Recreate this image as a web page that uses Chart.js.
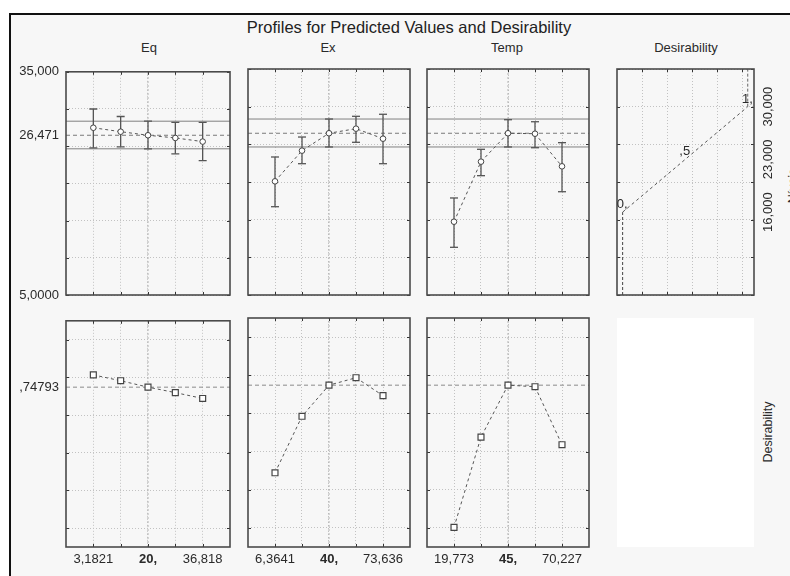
<!DOCTYPE html>
<html>
<head>
<meta charset="utf-8">
<script src="https://cdn.jsdelivr.net/npm/chart.js@4.4.1/dist/chart.umd.min.js"></script>
<style>
  body { margin: 0; background: #fff; font-family: "Liberation Sans", Arial, sans-serif; }
  #wrap { position: relative; width: 790px; height: 576px; overflow: hidden; background: #fff; }
  #frame { position: absolute; left: 9px; top: 13px; width: 820px; height: 600px; border-left: 2px solid #111; border-top: 2px solid #111; background: #f7f7f7; }
  .t { position: absolute; color: #2a2a2a; white-space: nowrap; line-height: 16px; }
  .rot { transform: translate(-50%, -50%) rotate(-90deg); }
  canvas { position: absolute; }
</style>
</head>
<body>
<div id="wrap">
  <div id="frame"></div>
  <div class="t" style="left:409px;top:17px;font-size:16.5px;line-height:20px;color:#222;transform:translateX(-50%)">Profiles for Predicted Values and Desirability</div>
  <div class="t" style="left:149px;top:40px;font-size:13px;transform:translateX(-50%)">Eq</div>
  <div class="t" style="left:328px;top:40px;font-size:13px;transform:translateX(-50%)">Ex</div>
  <div class="t" style="left:507px;top:40px;font-size:13px;transform:translateX(-50%)">Temp</div>
  <div class="t" style="left:686px;top:40px;font-size:13px;transform:translateX(-50%)">Desirability</div>
  <div style="position:absolute;left:617px;top:318px;width:137px;height:229px;background:#fff"></div>
  <div class="t rot" style="left:768px;top:432px;font-size:12.5px">Desirability</div>
  <div class="t rot" style="left:793px;top:186px;font-size:12.5px">Níveis</div>
  <canvas id="eqTop"></canvas>
  <canvas id="exTop"></canvas>
  <canvas id="tempTop"></canvas>
  <canvas id="desTop"></canvas>
  <canvas id="eqBot"></canvas>
  <canvas id="exBot"></canvas>
  <canvas id="tempBot"></canvas>
</div>
<script>
// factor levels (x) and their tick labels
const eqLevels = [3.1821, 11.591, 20, 28.409, 36.818];
const exLevels = [6.3641, 23.182, 40, 56.818, 73.636];
const tempLevels = [19.773, 32.386, 45, 57.614, 70.227];
const eqTickLabels = ['3,1821', '', '20,', '', '36,818'];
const exTickLabels = ['6,3641', '', '40,', '', '73,636'];
const tempTickLabels = ['19,773', '', '45,', '', '70,227'];

// predicted response with confidence limits
const eqPred = [27.48, 26.95, 26.471, 26.11, 25.62];
const eqLow = [24.78, 24.91, 24.65, 23.98, 23.05];
const eqHigh = [30.0, 28.99, 28.36, 28.19, 28.19];
const exPred = [20.09, 24.16, 26.471, 27.08, 25.75];
const exLow = [16.72, 22.43, 24.65, 25.27, 22.43];
const exHigh = [23.32, 25.97, 28.36, 28.72, 28.99];
const tempPred = [14.73, 22.70, 26.471, 26.41, 22.08];
const tempLow = [11.33, 20.84, 24.65, 24.55, 18.71];
const tempHigh = [17.88, 24.34, 28.27, 28.00, 25.22];
const predCurrent = 26.471;
const ciLow = 24.65;
const ciHigh = 28.36;

// desirability at each level
const eqDes = [0.813, 0.782, 0.748, 0.719, 0.688];
const exDes = [0.289, 0.585, 0.748, 0.787, 0.693];
const tempDes = [0.003, 0.476, 0.748, 0.740, 0.436];
const desCurrent = 0.74793;

// desirability function (desirability vs response)
const desValues = [0, 0.5, 1];
const desResp = [16, 23, 30];
const desLabels = ['0,', ',5', '1,'];
const respTicks = [16, 23, 30];
const respTickLabels = ['16,000', '23,000', '30,000'];

// axis ranges, grids and labels
const topRange = [5, 35];
const topGrid = [5, 10, 15, 20, 25, 30, 35];
const topYTicks = [35, 26.471, 5];
const topYLabels = ['35,000', '26,471', '5,0000'];
const botRange = [-0.1, 1.1];
const botGrid = [0, 0.2, 0.4, 0.6, 0.8, 1];
const botYTicks = [0.74793];
const botYLabels = [',74793'];
const desRange = [-0.045, 1.05];
const desGrid = [0.155, 0.355, 0.555, 0.755, 0.955];

const FONT = '"Liberation Sans", Arial, sans-serif';
const TXT = '#2a2a2a';
const GRID = '#c2c2c2';
const M = { l: 62, r: 46, t: 12, b: 30 };

function place(id, x, y, w, h) {
  const c = document.getElementById(id);
  c.width = w + M.l + M.r;
  c.height = h + M.t + M.b;
  c.style.left = (x - M.l) + 'px';
  c.style.top = (y - M.t) + 'px';
  return c;
}

// panel border + little inward ticks at the grid lines
const panelFrame = {
  id: 'panelFrame',
  afterDatasetsDraw(chart, args, o) {
    const { ctx, chartArea: a, scales } = chart;
    ctx.save();
    ctx.setLineDash([]);
    ctx.strokeStyle = '#333';
    ctx.lineWidth = 1;
    ctx.beginPath();
    (o.xs || []).forEach(v => {
      const p = Math.round(scales.x.getPixelForValue(v)) + 0.5;
      ctx.moveTo(p, a.top); ctx.lineTo(p, a.top + 3);
      ctx.moveTo(p, a.bottom); ctx.lineTo(p, a.bottom - 3);
    });
    (o.ys || []).forEach(v => {
      const p = Math.round(scales.y.getPixelForValue(v)) + 0.5;
      ctx.moveTo(a.left, p); ctx.lineTo(a.left + 3, p);
      ctx.moveTo(a.right, p); ctx.lineTo(a.right - 3, p);
    });
    ctx.stroke();
    ctx.strokeStyle = '#4a4a4a';
    ctx.lineWidth = 1.6;
    ctx.strokeRect(a.left, a.top, a.width, a.height);
    ctx.restore();
  }
};

// labels on the desirability function + the right response axis
const desText = {
  id: 'desText',
  afterDatasetsDraw(chart) {
    const { ctx, chartArea: a, scales: { x, y } } = chart;
    ctx.save();
    ctx.fillStyle = TXT;
    ctx.font = '13px ' + FONT;
    ctx.textAlign = 'right';
    ctx.textBaseline = 'bottom';
    desValues.forEach((v, i) => {
      ctx.fillText(desLabels[i], x.getPixelForValue(v) + 5, y.getPixelForValue(desResp[i]) - 1);
    });
    ctx.textAlign = 'center';
    ctx.textBaseline = 'middle';
    respTicks.forEach((v, i) => {
      ctx.save();
      ctx.translate(a.right + 14, y.getPixelForValue(v));
      ctx.rotate(-Math.PI / 2);
      ctx.fillText(respTickLabels[i], 0, 0);
      ctx.restore();
    });
    ctx.restore();
  }
};

function xScale(min, max, grid, tickLabels) {
  return {
    type: 'linear', min: min, max: max,
    afterBuildTicks: s => { s.ticks = grid.map(v => ({ value: v })); },
    afterFit: s => { s.height = M.b; },
    grid: { color: GRID, drawTicks: false },
    border: { display: false, dash: [1, 2] },
    ticks: {
      display: !!tickLabels, autoSkip: false, maxRotation: 0, padding: 5, color: TXT,
      font: c => ({ family: FONT, size: 13, weight: c.index === 2 ? 'bold' : 'normal' }),
      callback: (v, i) => tickLabels ? tickLabels[i] : ''
    }
  };
}

function yScale(range, grid, labelVals, labels) {
  const vals = [...new Set(grid.concat(labelVals || []))].sort((a, b) => a - b);
  return {
    min: range[0], max: range[1],
    afterBuildTicks: s => { s.ticks = vals.map(v => ({ value: v })); },
    afterFit: s => { s.width = M.l; },
    grid: { drawTicks: false, color: c => grid.includes(c.tick.value) ? GRID : 'rgba(0,0,0,0)' },
    border: { display: false, dash: [1, 2] },
    ticks: {
      display: !!labelVals, padding: 7, color: TXT, font: { family: FONT, size: 13 },
      callback: v => { const k = (labelVals || []).indexOf(v); return k < 0 ? '' : labels[k]; }
    }
  };
}

function line(data, color, dash, width) {
  return { data: data, borderColor: color, borderDash: dash, borderWidth: width || 1, pointRadius: 0 };
}

function baseOptions(xs, ys, extra) {
  return Object.assign({
    responsive: false, animation: false, events: [],
    layout: { padding: { top: M.t, right: M.r, left: 0, bottom: 0 } },
    plugins: { legend: { display: false }, tooltip: { enabled: false }, panelFrame: { xs: xs, ys: ys } }
  }, extra);
}

function profileTop(id, x, levels, pred, low, high, showY) {
  const step = (levels[4] - levels[0]) / 4;
  const x0 = levels[0] - step, x1 = levels[4] + step;
  const bars = [];
  levels.forEach((v, i) => bars.push({ x: v, y: low[i] }, { x: v, y: high[i] }, { x: v, y: null }));
  new Chart(place(id, x, 69, id === 'eqTop' ? 164 : 162, 226), {
    type: 'line',
    data: {
      datasets: [
        { data: levels.map((v, i) => ({ x: v, y: pred[i] })), borderColor: '#555', borderWidth: 1, borderDash: [3, 3],
          pointStyle: 'circle', pointRadius: 2.8, pointBackgroundColor: '#fff', pointBorderColor: '#444', pointBorderWidth: 1 },
        { data: bars, borderColor: '#555', borderWidth: 1.3, spanGaps: false,
          pointStyle: 'line', pointRadius: 4, pointBorderColor: '#555', pointBorderWidth: 1.3 },
        line([{ x: x0, y: predCurrent }, { x: x1, y: predCurrent }], '#7a7a7a', [4, 3]),
        line([{ x: x0, y: ciHigh }, { x: x1, y: ciHigh }], '#808080', []),
        line([{ x: x0, y: ciLow }, { x: x1, y: ciLow }], '#808080', []),
        line([{ x: levels[2], y: topRange[0] }, { x: levels[2], y: topRange[1] }], '#b4b4b4', [2, 2])
      ]
    },
    options: baseOptions(levels, topGrid, {
      scales: {
        x: xScale(x0, x1, levels, null),
        y: showY ? yScale(topRange, topGrid, topYTicks, topYLabels) : yScale(topRange, topGrid)
      }
    }),
    plugins: [panelFrame]
  });
}

function profileBot(id, x, levels, des, tickLabels, showY) {
  const step = (levels[4] - levels[0]) / 4;
  const x0 = levels[0] - step, x1 = levels[4] + step;
  new Chart(place(id, x, 318, id === 'eqBot' ? 164 : 162, 229), {
    type: 'line',
    data: {
      datasets: [
        { data: levels.map((v, i) => ({ x: v, y: des[i] })), borderColor: '#555', borderWidth: 1, borderDash: [3, 3],
          pointStyle: 'rect', pointRadius: 4.2, pointBackgroundColor: '#fff', pointBorderColor: '#444', pointBorderWidth: 1.2 },
        line([{ x: x0, y: desCurrent }, { x: x1, y: desCurrent }], '#8a8a8a', [4, 3]),
        line([{ x: levels[2], y: botRange[0] }, { x: levels[2], y: botRange[1] }], '#b4b4b4', [2, 2])
      ]
    },
    options: baseOptions(levels, botGrid, {
      scales: {
        x: xScale(x0, x1, levels, tickLabels),
        y: showY ? yScale(botRange, botGrid, botYTicks, botYLabels) : yScale(botRange, botGrid)
      }
    }),
    plugins: [panelFrame]
  });
}

profileTop('eqTop', 66, eqLevels, eqPred, eqLow, eqHigh, true);
profileTop('exTop', 248, exLevels, exPred, exLow, exHigh, false);
profileTop('tempTop', 427, tempLevels, tempPred, tempLow, tempHigh, false);
profileBot('eqBot', 66, eqLevels, eqDes, eqTickLabels, true);
profileBot('exBot', 248, exLevels, exDes, exTickLabels, false);
profileBot('tempBot', 427, tempLevels, tempDes, tempTickLabels, false);

// desirability function panel
new Chart(place('desTop', 617, 69, 137, 226), {
  type: 'line',
  data: {
    datasets: [
      line(desValues.map((v, i) => ({ x: v, y: desResp[i] })), '#555', [3, 3]),
      line([{ x: desValues[0], y: topRange[0] }, { x: desValues[0], y: desResp[0] }], '#444', [3, 2]),
      line([{ x: desValues[2], y: desResp[2] }, { x: desValues[2], y: topRange[1] }], '#666', [3, 2])
    ]
  },
  options: baseOptions(desGrid, topGrid, {
    scales: {
      x: xScale(desRange[0], desRange[1], desGrid, null),
      y: yScale(topRange, topGrid)
    }
  }),
  plugins: [panelFrame, desText]
});
</script>
</body>
</html>
